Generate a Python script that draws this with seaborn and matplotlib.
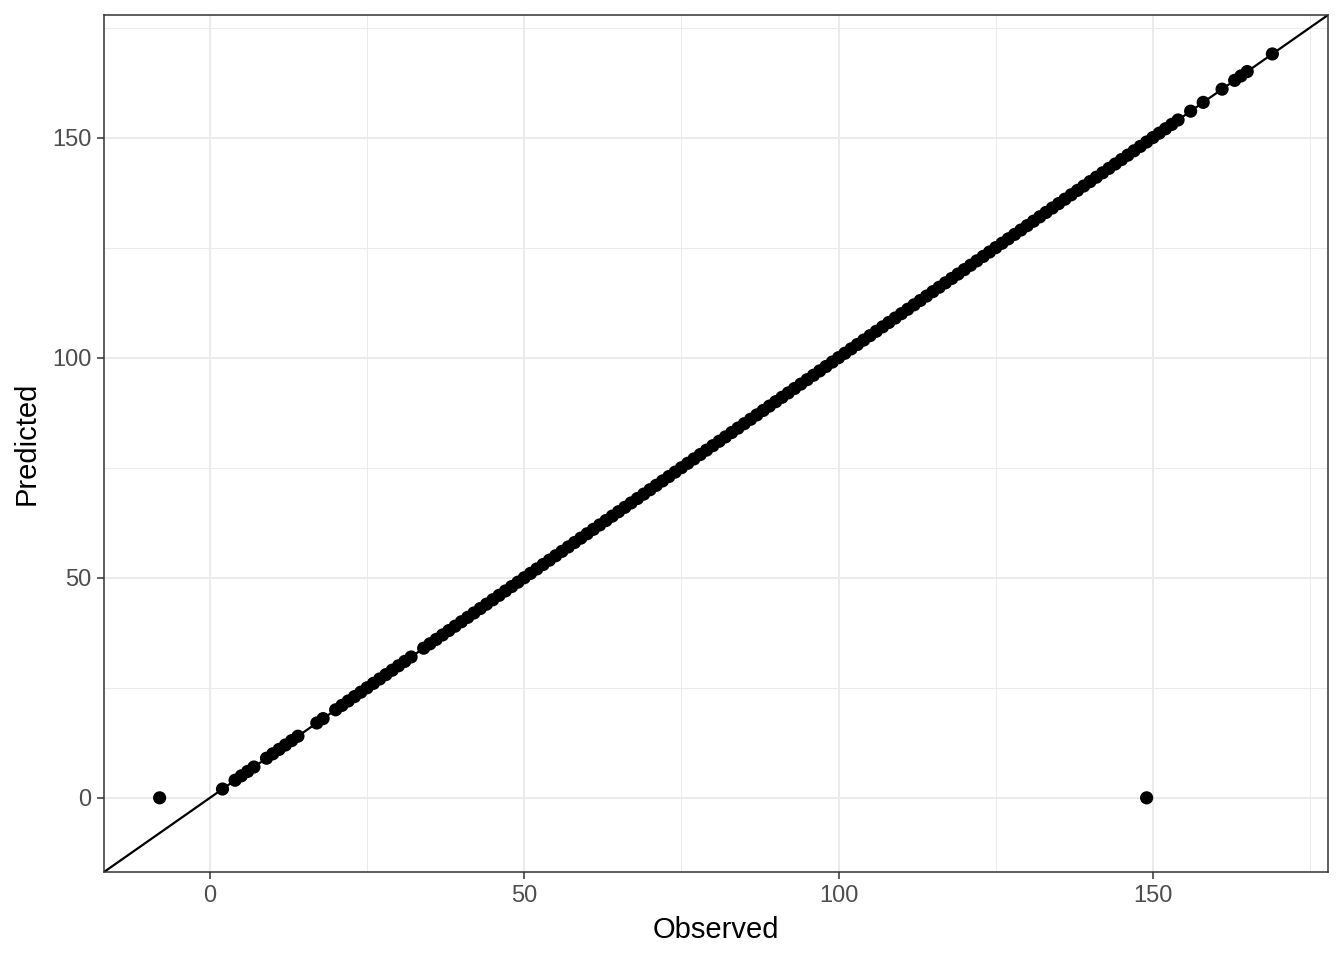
import numpy as np
import pandas as pd
import matplotlib
matplotlib.use("Agg")
import matplotlib.pyplot as plt
import seaborn as sns
from matplotlib.ticker import MultipleLocator

# observed vs predicted values
observed = [
    -8, 2, 4, 5, 6, 7, 9, 10, 11, 12, 13, 14, 17, 18,
    20, 21, 22, 23, 24, 25, 26, 27, 28, 29, 30, 31, 32,
    34, 35, 36, 37, 38, 39, 40, 41, 42, 43, 44, 45, 46, 47, 48, 49,
    50, 51, 52, 53, 54, 55, 56, 57, 58, 59, 60, 61, 62, 63, 64, 65,
    66, 67, 68, 69, 70, 71, 72, 73, 74, 75, 76, 77, 78, 79, 80, 81,
    82, 83, 84, 85, 86, 87, 88, 89, 90, 91, 92, 93, 94, 95, 96, 97,
    98, 99, 100, 101, 102, 103, 104, 105, 106, 107, 108, 109, 110,
    111, 112, 113, 114, 115, 116, 117, 118, 119, 120, 121, 122, 123,
    124, 125, 126, 127, 128, 129, 130, 131, 132, 133, 134, 135, 136,
    137, 138, 139, 140, 141, 142, 143, 144, 145, 146, 147, 148, 149,
    150, 151, 152, 153, 154, 156, 158, 161, 163, 164, 165, 169, 149,
]
predicted = [
    0, 2, 4, 5, 6, 7, 9, 10, 11, 12, 13, 14, 17, 18,
    20, 21, 22, 23, 24, 25, 26, 27, 28, 29, 30, 31, 32,
    34, 35, 36, 37, 38, 39, 40, 41, 42, 43, 44, 45, 46, 47, 48, 49,
    50, 51, 52, 53, 54, 55, 56, 57, 58, 59, 60, 61, 62, 63, 64, 65,
    66, 67, 68, 69, 70, 71, 72, 73, 74, 75, 76, 77, 78, 79, 80, 81,
    82, 83, 84, 85, 86, 87, 88, 89, 90, 91, 92, 93, 94, 95, 96, 97,
    98, 99, 100, 101, 102, 103, 104, 105, 106, 107, 108, 109, 110,
    111, 112, 113, 114, 115, 116, 117, 118, 119, 120, 121, 122, 123,
    124, 125, 126, 127, 128, 129, 130, 131, 132, 133, 134, 135, 136,
    137, 138, 139, 140, 141, 142, 143, 144, 145, 146, 147, 148, 149,
    150, 151, 152, 153, 154, 156, 158, 161, 163, 164, 165, 169, 0,
]

df = pd.DataFrame({"Observed": observed, "Predicted": predicted})

sns.set_style("white")
plt.rcParams["font.family"] = ["Liberation Sans", "DejaVu Sans"]

fig = plt.figure(figsize=(13.44, 9.6), dpi=100)
ax = fig.add_axes([104 / 1344, 88 / 960, 1224 / 1344, 857 / 960])

# shared limits for both axes, padded 5% like ggplot
lo = min(df["Observed"].min(), df["Predicted"].min())
hi = max(df["Observed"].max(), df["Predicted"].max())
pad = (hi - lo) * 0.05
ax.set_xlim(lo - pad, hi + pad)
ax.set_ylim(lo - pad, hi + pad)

ax.xaxis.set_major_locator(MultipleLocator(50))
ax.yaxis.set_major_locator(MultipleLocator(50))
ax.xaxis.set_minor_locator(MultipleLocator(25))
ax.yaxis.set_minor_locator(MultipleLocator(25))
ax.grid(which="major", color="#EBEBEB", linewidth=1.4)
ax.grid(which="minor", color="#EBEBEB", linewidth=0.7)
ax.set_axisbelow(True)

ax.axline((0, 0), slope=1, color="black", linewidth=1.6, zorder=2)
sns.scatterplot(data=df, x="Observed", y="Predicted", ax=ax, color="black",
                s=90, edgecolor="none", zorder=3)

for sp in ax.spines.values():
    sp.set_color("#333333")
    sp.set_linewidth(1.1)
ax.tick_params(which="major", length=5, width=1.1, color="#333333",
               labelcolor="#4D4D4D", labelsize=17, pad=4,
               bottom=True, left=True)
ax.tick_params(which="minor", length=0)
ax.set_xlabel("Observed", fontsize=21, color="black", labelpad=7)
ax.set_ylabel("Predicted", fontsize=21, color="black", labelpad=8)

fig.savefig("out.png", dpi=100)
